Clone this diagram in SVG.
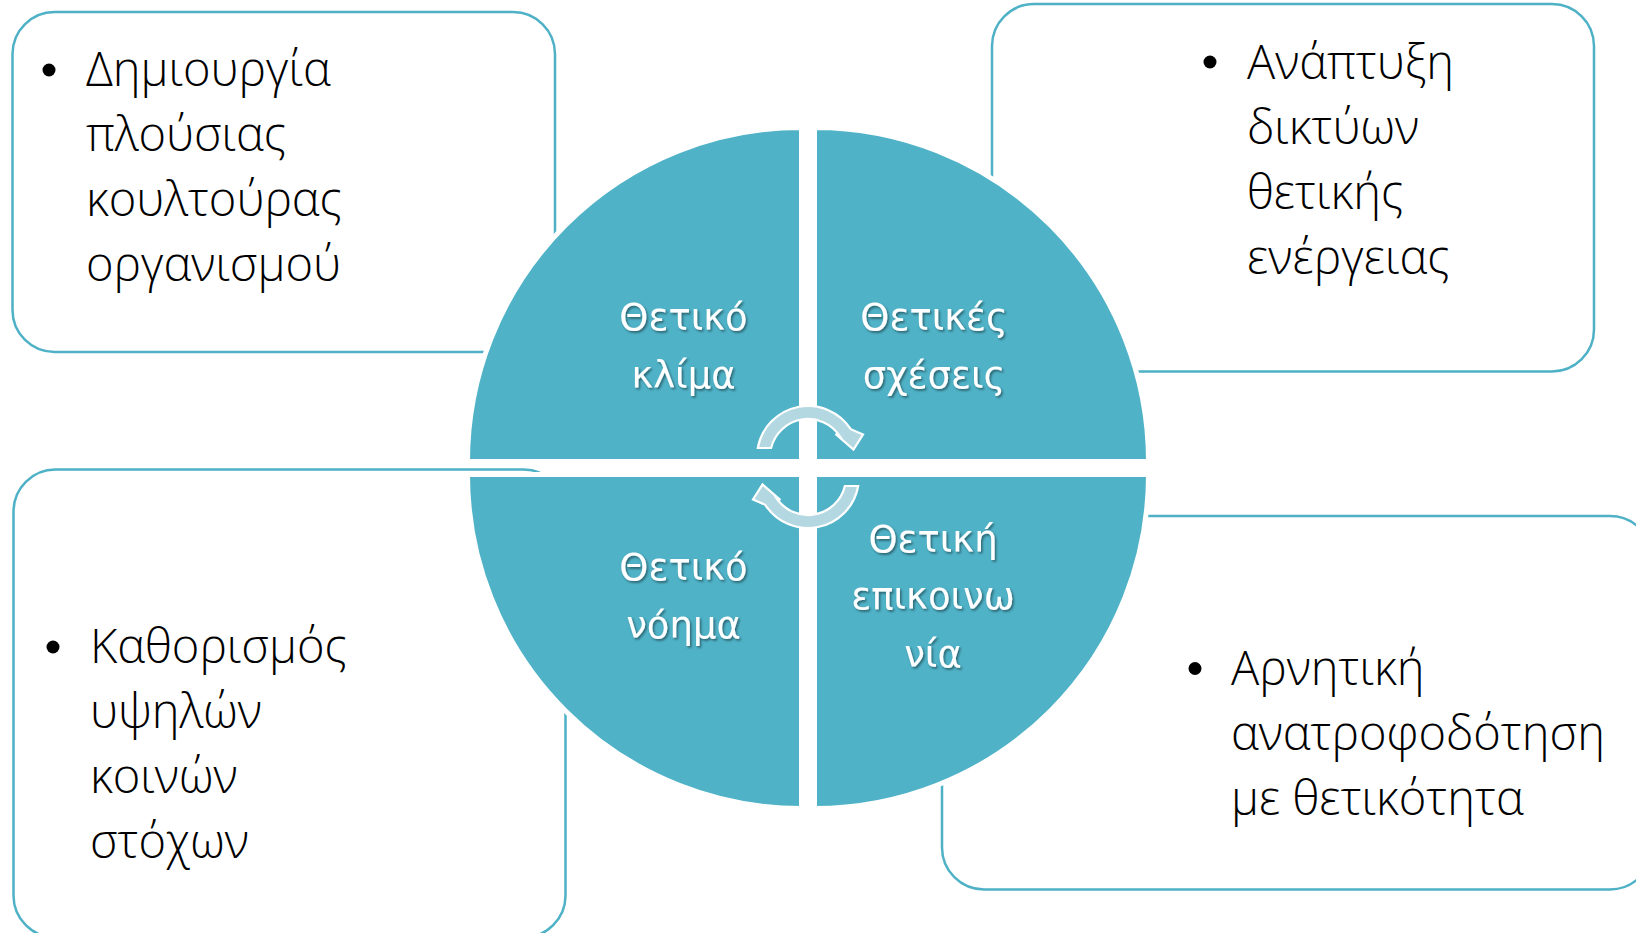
<svg xmlns="http://www.w3.org/2000/svg" width="1636" height="933" viewBox="0 0 1636 933">
<defs>
<style>
.box{fill:#ffffff;stroke:#4EB1C6;stroke-width:2.5}
.quad{fill:#4FB2C7;stroke:#ffffff;stroke-width:5}
.arrow{fill:#B4D8E2;stroke:#ffffff;stroke-width:2.2;stroke-linejoin:miter}
.bt{font-family:"Open Sans","Noto Sans","DejaVu Sans",sans-serif;font-weight:300;font-size:47px;fill:#000000}
.bul{fill:#000000}
.qt{font-family:"DejaVu Sans","Noto Sans",sans-serif;font-size:37px;fill:#ffffff;text-anchor:middle;filter:url(#sh)}
</style>
<filter id="sh" x="-10%" y="-20%" width="120%" height="150%">
<feDropShadow dx="1.5" dy="1.8" stdDeviation="1" flood-color="#000000" flood-opacity="0.45"/>
</filter>
<path id="arr" d="M757.8,448 A51,51 0 0 1 850.8,429.2 L863,434.5 L853.5,449.5 L835.5,434 L839.9,436.3 A38,38 0 0 0 771.1,448 Z"/>
</defs>

<g id="box-tl">
<rect class="box" x="12.5" y="12" width="542.5" height="340" rx="42"/>
<circle class="bul" cx="49" cy="70" r="6.5"/>
<text class="bt"><tspan x="86" y="86">Δημιουργία</tspan><tspan x="86" y="151">πλούσιας</tspan><tspan x="86" y="216">κουλτούρας</tspan><tspan x="86" y="281">οργανισμού</tspan></text>
</g>

<g id="box-tr">
<rect class="box" x="992" y="4" width="602" height="367.5" rx="42"/>
<circle class="bul" cx="1210" cy="62" r="6.5"/>
<text class="bt"><tspan x="1247" y="79">Ανάπτυξη</tspan><tspan x="1247" y="144">δικτύων</tspan><tspan x="1247" y="209">θετικής</tspan><tspan x="1247" y="274">ενέργειας</tspan></text>
</g>

<g id="box-bl">
<rect class="box" x="13.5" y="469.5" width="552" height="468" rx="42"/>
<circle class="bul" cx="53" cy="647" r="6.5"/>
<text class="bt"><tspan x="90" y="663">Καθορισμός</tspan><tspan x="90" y="728">υψηλών</tspan><tspan x="90" y="793">κοινών</tspan><tspan x="90" y="858">στόχων</tspan></text>
</g>

<g id="box-br">
<rect class="box" x="942" y="516" width="710" height="373.5" rx="42"/>
<circle class="bul" cx="1195" cy="668.5" r="6.5"/>
<text class="bt"><tspan x="1231" y="685">Αρνητική</tspan><tspan x="1231" y="750">ανατροφοδότηση</tspan><tspan x="1231" y="815">με θετικότητα</tspan></text>
</g>

<g id="quad-tl">
<path class="quad" d="M801.5,461.5 L467.5,461.5 A334,334 0 0 1 801.5,127.5 Z"/>
<text class="qt"><tspan x="683.5" y="329.5">Θετικό</tspan><tspan x="683.5" y="388">κλίμα</tspan></text>
</g>

<g id="quad-tr">
<path class="quad" d="M814.5,461.5 L814.5,127.5 A334,334 0 0 1 1148.5,461.5 Z"/>
<text class="qt"><tspan x="934" y="329.5">Θετικές</tspan><tspan x="934" y="388">σχέσεις</tspan></text>
</g>

<g id="quad-bl">
<path class="quad" d="M801.5,474.5 L801.5,808.5 A334,334 0 0 1 467.5,474.5 Z"/>
<text class="qt"><tspan x="683.5" y="579.5">Θετικό</tspan><tspan x="683.5" y="638">νόημα</tspan></text>
</g>

<g id="quad-br">
<path class="quad" d="M814.5,474.5 L1148.5,474.5 A334,334 0 0 1 814.5,808.5 Z"/>
<text class="qt"><tspan x="933" y="551.5">Θετική</tspan><tspan x="933" y="609">επικοινω</tspan><tspan x="933" y="667">νία</tspan></text>
</g>

<g id="connectors">
<use href="#arr" class="arrow"/>
<use href="#arr" class="arrow" transform="rotate(180 808 467)"/>
</g>
</svg>
